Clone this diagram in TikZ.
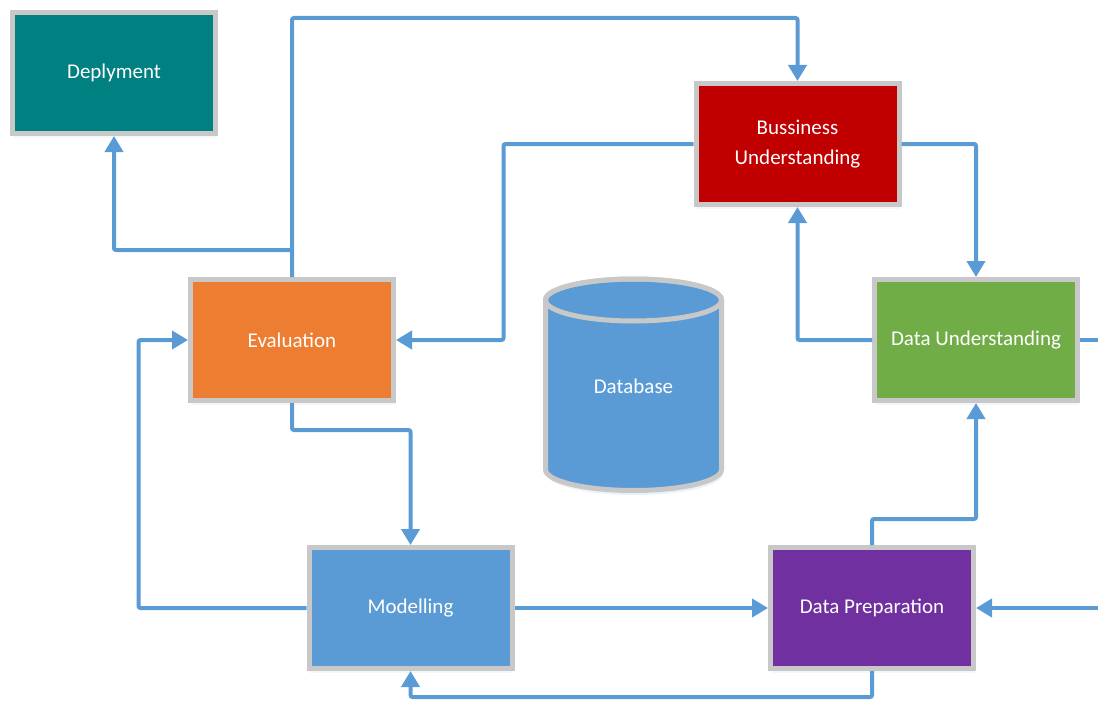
\documentclass[tikz,border=0pt]{standalone}
\usepackage{tikz}
\usepackage{xcolor}
\usepackage{fontspec}
\setmainfont{Carlito}
\usetikzlibrary{positioning, arrows.meta, shadows}

\definecolor{flowblue}{HTML}{5B9BD5}
\definecolor{boxgray}{HTML}{C8C8C8}
\definecolor{deptea}{HTML}{008080}
\definecolor{busred}{HTML}{C00000}
\definecolor{evalorange}{HTML}{ED7D31}
\definecolor{dugreen}{HTML}{70AD47}
\definecolor{dppurple}{HTML}{7030A0}

\begin{document}
\begin{tikzpicture}[x=1pt,y=-1pt,>={Triangle[length=16pt,width=18pt]},
        flow/.style={draw=flowblue,line width=4pt,rounded corners=2pt},
        label text/.style={text=white,font=\fontsize{21}{30}\selectfont}]
        \tikzstyle{phase}=[rectangle,draw=boxgray,line width=5pt,minimum width=203pt,minimum height=121pt,
                inner sep=0pt,label text,align=center,
                drop shadow={shadow xshift=1pt,shadow yshift=-4pt,opacity=0.2,fill=flowblue!40}]

        \useasboundingbox (0,0) rectangle (1098,701);

        \node[phase,fill=deptea]     (dep)  at (114,73)    {Deplyment};
        \node[phase,fill=busred]     (bus)  at (797.5,144) {Bussiness\\Understanding};
        \node[phase,fill=evalorange] (eval) at (292,340)   {Evaluation};
        \node[phase,fill=dugreen]    (du)   at (976,340)   {Data Understanding};
        \node[phase,fill=flowblue]   (mod)  at (410.5,608) {Modelling};
        \node[phase,fill=dppurple]   (dp)   at (872,608)   {Data Preparation};

        % database drum in the middle
        \fill[flowblue!30,opacity=0.4] (547,304) -- (547,474) arc (180:0:88 and 21) -- (723,304) -- cycle;
        \filldraw[fill=flowblue,draw=boxgray,line width=5pt]
              (545.5,300) -- (545.5,469.5) arc (180:0:88 and 21) -- (721.5,300) arc (0:-180:88 and 21) -- cycle;
        \draw[boxgray,line width=5pt] (633.5,300) ellipse (88 and 21);
        \node[label text] (dbtext) at (633.5,386) {Database};

        \coordinate (rout) at (1098,340);
        \coordinate (rin)  at (1098,608);

        \draw[flow,->] (eval.north) -- ++(0,-259) -| (bus.north);
        \draw[flow,->] (eval.north) ++(0,-27) -| (dep.south);
        \draw[flow,->] (bus.west) -- ++(-190,0) |- (eval.east);
        \draw[flow,->] (bus.east) -| (du.north);
        \draw[flow,->] (du.west) -| (bus.south);
        \draw[flow]    (du.east) -- (rout);
        \draw[flow,->] (rin) -- (dp.east);
        \draw[flow,->] (dp.north) -- ++(0,-26) -| (du.south);
        \draw[flow,->] (dp.south) -- ++(0,26) -| (mod.south);
        \draw[flow,->] (mod.east) -- (dp.west);
        \draw[flow,->] (mod.west) -- ++(-168,0) |- (eval.west);
        \draw[flow,->] (eval.south) -- ++(0,27) -| (mod.north);
\end{tikzpicture}
\end{document}
